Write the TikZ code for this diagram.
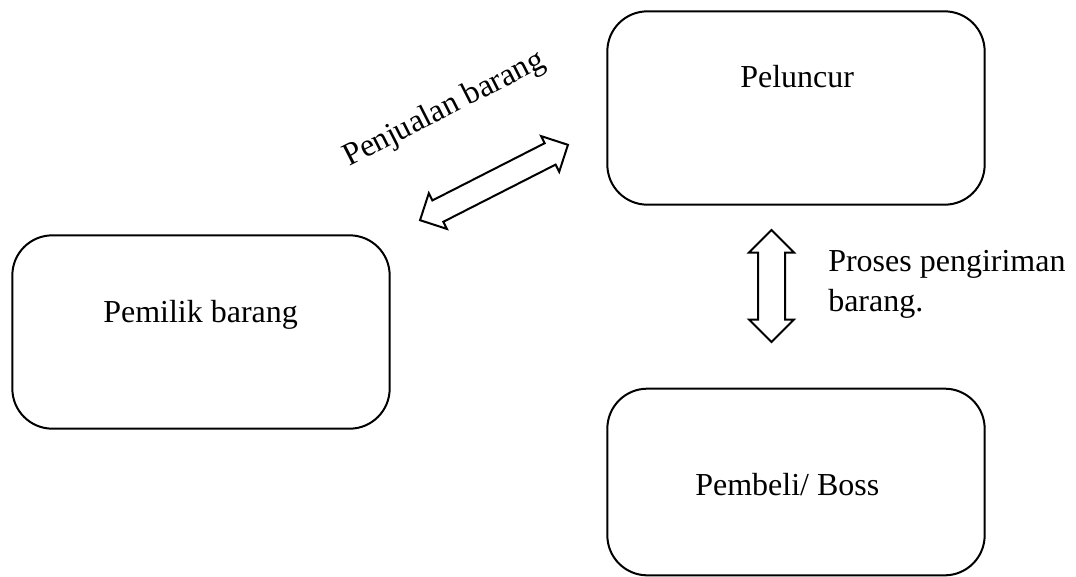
\documentclass[tikz,border=0pt]{standalone}
\usepackage{fontspec}
\setmainfont{Liberation Serif}
\usetikzlibrary{positioning,shapes.arrows}
\tikzset{
    base/.style={font=\fontsize{24}{30}\selectfont, align=left},
    box/.style={rectangle, rounded corners=30pt, draw=black, line width=1.5pt, inner sep=0pt},
    boxtext/.style={base, inner sep=0pt, anchor=base west},
    blockarrow/.style={double arrow, draw=black, fill=white, line width=1.5pt, inner sep=0pt,
                       double arrow head extend=0.5pt}
}
\begin{document}
\begin{tikzpicture}[x=0.75pt, y=-0.75pt]
  \useasboundingbox (0,0) rectangle (1076,576);
  % the three parties
  \node[box, minimum width=283pt, minimum height=145pt] (peluncur) at (796,108) {};
  \node[box, minimum width=283pt, minimum height=145pt] (pemilik) at (201,332) {};
  \node[box, minimum width=283pt, minimum height=140pt] (pembeli) at (796,482) {};
  \node[boxtext] (peluncurtext) at (740,87) {Peluncur};
  \node[boxtext] (pemiliktext) at (103,322) {Pemilik barang};
  \node[boxtext] (pembelitext) at (695,495) {Pembeli/ Boss};

  % block arrows between them
  \node[blockarrow, minimum height=124.5pt, minimum width=30pt, rotate=27] (jual) at (494,182.5) {};
  \node[blockarrow, minimum height=84pt, minimum width=33.75pt, rotate=90] (kirim) at (771.5,286) {};

  % arrow labels
  \node[boxtext, rotate=27] (jualtext) at (349,167) {Penjualan barang};
  \node[base, inner sep=0pt, anchor=north west] (kirimtext) at (828,250) {Proses pengiriman\\barang.};
\end{tikzpicture}
\end{document}
